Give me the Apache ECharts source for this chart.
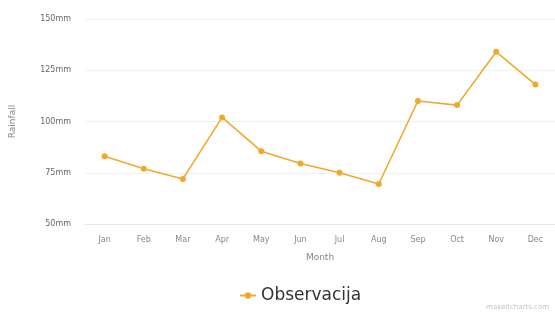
<!DOCTYPE html>
<html>
<head>
<meta charset="utf-8">
<script src="https://cdn.jsdelivr.net/npm/echarts@6/dist/echarts.min.js"></script>
<style>
  html, body { margin: 0; padding: 0; background: #fff; }
  #chart { width: 555px; height: 315px; }
</style>
</head>
<body>
<div id="chart"></div>
<script>
var months = ["Jan", "Feb", "Mar", "Apr", "May", "Jun", "Jul", "Aug", "Sep", "Oct", "Nov", "Dec"];
var rainfall = [83, 77, 72, 102, 85.5, 79.5, 75, 69.5, 110, 108, 134, 118];
var seriesName = "Observacija";
var lineColor = "#eeaa2e";

var chart = echarts.init(document.getElementById("chart"), null, { renderer: "canvas" });

chart.setOption({
  animation: false,
  grid: { left: 85, right: -5, top: 19, bottom: 91 },
  legend: {
    data: [seriesName],
    top: 282,
    left: 234,
    itemWidth: 16,
    itemHeight: 8,
    itemGap: 8,
    textStyle: { fontFamily: "DejaVu Sans", fontSize: 17, color: "#333" }
  },
  graphic: [{
    type: "text",
    right: 6,
    bottom: 4,
    style: { text: "makeitcharts.com", fontSize: 7, fill: "#c4c4c4", fontFamily: "DejaVu Sans" }
  }],
  xAxis: {
    type: "category",
    data: months,
    boundaryGap: true,
    name: "Month",
    nameLocation: "middle",
    nameGap: 29,
    nameTextStyle: { fontSize: 9, color: "#888", fontFamily: "DejaVu Sans" },
    axisLine: { lineStyle: { color: "#e6e6e6", width: 1 } },
    axisTick: { show: false },
    axisLabel: { fontSize: 8, color: "#888", margin: 12, fontFamily: "DejaVu Sans" }
  },
  yAxis: {
    type: "value",
    min: 50,
    max: 150,
    interval: 25,
    name: "Rainfall",
    nameLocation: "middle",
    nameGap: 68,
    nameTextStyle: { fontSize: 9, color: "#888", fontFamily: "DejaVu Sans" },
    axisLine: { show: false },
    axisTick: { show: false },
    splitLine: { lineStyle: { color: "#f0f0f0", width: 1 } },
    axisLabel: {
      fontSize: 8,
      color: "#666",
      margin: 14,
      fontFamily: "DejaVu Sans",
      formatter: function (v) { return v + "mm"; }
    }
  },
  series: [{
    name: seriesName,
    type: "line",
    data: rainfall,
    symbol: "circle",
    symbolSize: 6,
    itemStyle: { color: lineColor },
    lineStyle: { color: lineColor, width: 1.6 }
  }]
});
</script>
</body>
</html>
